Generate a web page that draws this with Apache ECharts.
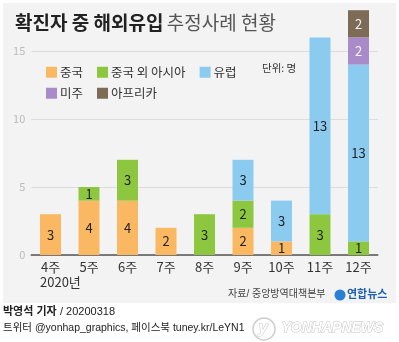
<!DOCTYPE html>
<html>
<head>
<meta charset="utf-8">
<script src="https://cdn.jsdelivr.net/npm/echarts@6/dist/echarts.min.js"></script>
<style>
  html, body { margin: 0; padding: 0; background: #ffffff; }
  #chart { width: 399px; height: 342px; }
</style>
</head>
<body>
<div id="chart"></div>
<script>
// Weekly counts of imported confirmed cases by region of origin
const weeks = ['4주', '5주', '6주', '7주', '8주', '9주', '10주', '11주', '12주'];
const china = [3, 4, 4, 2, null, 2, 1, null, null];
const asiaExChina = [null, 1, 3, null, 3, 2, null, 3, 1];
const europe = [null, null, null, null, null, 3, 3, 13, 13];
const americas = [null, null, null, null, null, null, null, null, 2];
const africa = [null, null, null, null, null, null, null, null, 2];
const yTicks = [0, 5, 10, 15];

const FONT = '"Noto Sans CJK KR", "Noto Sans", sans-serif';
const NARROW = '"Liberation Sans", "Noto Sans CJK KR", sans-serif';

function makeSeries(name, data, color, labelColor) {
  return {
    name: name,
    type: 'bar',
    stack: 'total',
    data: data,
    barWidth: 21,
    clip: false,
    itemStyle: { color: color },
    label: {
      show: true,
      position: 'inside',
      color: labelColor,
      fontSize: 13,
      fontFamily: FONT,
      formatter: p => (p.value ? String(p.value) : '')
    },
    emphasis: { disabled: true }
  };
}

const chart = echarts.init(document.getElementById('chart'), null, { renderer: 'canvas' });

chart.setOption({
  animation: false,
  backgroundColor: '#ffffff',
  textStyle: { fontFamily: FONT },
  grid: { left: 31.25, right: 21.25, top: 51, bottom: 87 },
  legend: [
    {
      data: ['중국', '중국 외 아시아', '유럽'],
      left: 41, top: 61,
      itemWidth: 11, itemHeight: 11, itemGap: 14,
      icon: 'rect',
      textStyle: { fontSize: 12.5, color: '#333', fontFamily: FONT, padding: [0, 0, 0, -2] },
      selectedMode: false
    },
    {
      data: ['미주', '아프리카'],
      left: 41, top: 82,
      itemWidth: 11, itemHeight: 11, itemGap: 14,
      icon: 'rect',
      textStyle: { fontSize: 12.5, color: '#333', fontFamily: FONT, padding: [0, 0, 0, -2] },
      selectedMode: false
    }
  ],
  xAxis: {
    type: 'category',
    data: weeks,
    axisLine: { show: true, lineStyle: { color: '#555', width: 1.5 } },
    axisTick: { show: false },
    axisLabel: { color: '#333', fontSize: 13, margin: 6, fontFamily: FONT }
  },
  yAxis: {
    type: 'value',
    min: 0, max: yTicks[yTicks.length - 1], interval: 5,
    axisLine: { show: false },
    axisTick: { show: false },
    axisLabel: { color: '#bbbbbb', fontSize: 11, margin: 6, fontFamily: FONT },
    splitLine: { lineStyle: { color: '#dcdcdc', width: 1 } }
  },
  series: [
    makeSeries('중국', china, '#fbb862', '#222'),
    makeSeries('중국 외 아시아', asiaExChina, '#8dc63f', '#222'),
    makeSeries('유럽', europe, '#8ccbf0', '#222'),
    makeSeries('미주', americas, '#a98bc9', '#f4f4f4'),
    makeSeries('아프리카', africa, '#7d6b57', '#f4f4f4')
  ],
  graphic: [
    // panel background
    { type: 'rect', z: -10, shape: { x: 3, y: 3, width: 393, height: 300 }, style: { fill: '#f3f3f3' } },
    // title
    {
      type: 'text', left: 15, top: 13, z: 10,
      style: {
        text: '{b|확진자 중 해외유입} {r|추정사례 현황}',
        rich: {
          b: { fontSize: 19, fontWeight: 'bold', fill: '#222', fontFamily: FONT },
          r: { fontSize: 19, fontWeight: 'normal', fill: '#555', fontFamily: FONT }
        }
      }
    },
    // unit
    { type: 'text', left: 262, top: 63, style: { text: '단위: 명', fontSize: 10.5, fill: '#333', fontFamily: FONT } },
    // year under first category
    { type: 'text', left: 40, top: 276, style: { text: '2020년', fontSize: 13, fill: '#333', fontFamily: FONT } },
    // source
    { type: 'text', left: 228, top: 289, style: { text: '자료/ 중앙방역대책본부', fontSize: 10, fill: '#444', fontFamily: NARROW } },
    // agency logo
    { type: 'circle', shape: { cx: 340, cy: 295, r: 5.5 }, style: { fill: '#2a7fd4' } },
    { type: 'text', left: 347, top: 288, style: { text: '연합뉴스', fontSize: 11, fontWeight: 'bold', fill: '#1d5fb5', fontFamily: FONT } },
    // credits
    {
      type: 'text', left: 3, top: 306,
      style: {
        text: '{b|박영석 기자} {r|/ 20200318}',
        rich: {
          b: { fontSize: 11, fontWeight: 'bold', fill: '#222', fontFamily: NARROW },
          r: { fontSize: 11, fill: '#222', fontFamily: NARROW }
        }
      }
    },
    { type: 'text', left: 3, top: 323, style: { text: '트위터 @yonhap_graphics, 페이스북 tuney.kr/LeYN1', fontSize: 10.5, fill: '#222', fontFamily: NARROW } },
    // watermark
    { type: 'circle', shape: { cx: 264, cy: 329, r: 11 }, style: { fill: 'rgba(255,255,255,0.6)', stroke: '#cfcfcf', lineWidth: 1.5 } },
    { type: 'text', left: 258, top: 319, style: { text: 'y', fontSize: 17, fontStyle: 'italic', fontWeight: 'bold', fill: '#ffffff', stroke: '#c4c4c4', lineWidth: 1, fontFamily: NARROW } },
    { type: 'text', left: 281, top: 321, style: { text: 'YONHAPNEWS', fontSize: 14, fontStyle: 'italic', fontWeight: 'bold', fill: '#ffffff', stroke: '#c4c4c4', lineWidth: 1, fontFamily: NARROW } }
  ]
});
</script>
</body>
</html>
